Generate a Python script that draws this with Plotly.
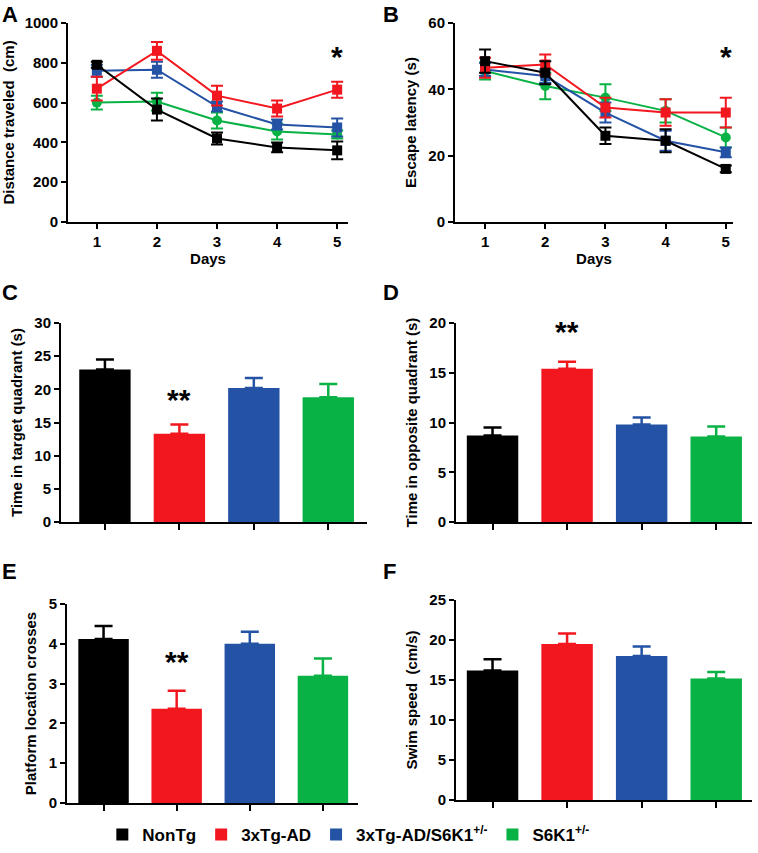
import plotly.graph_objects as go

W, H = 758, 853

GROUPS = ["NonTg", "3xTg-AD", "3xTg-AD/S6K1<sup>+/-</sup>", "S6K1<sup>+/-</sup>"]
COLORS = ["#000000", "#F2171E", "#2452A4", "#08B244"]
SYMBOLS = ["square", "square", "square", "circle"]

DAYS = [1, 2, 3, 4, 5]

# A: distance traveled (cm), per group
dist_nontg = [790, 565, 420, 375, 360]
dist_3xtg = [670, 860, 635, 570, 665]
dist_dko = [760, 765, 580, 490, 475]
dist_s6k1 = [600, 605, 510, 455, 440]
dist_nontg_err = [15, 55, 30, 25, 45]
dist_3xtg_err = [60, 45, 50, 40, 40]
dist_dko_err = [30, 40, 25, 25, 45]
dist_s6k1_err = [35, 45, 40, 40, 20]

# B: escape latency (s)
lat_nontg = [48.5, 45.0, 26.0, 24.5, 16.0]
lat_3xtg = [46.5, 47.5, 34.5, 33.0, 33.0]
lat_dko = [46.0, 44.0, 33.0, 24.5, 21.0]
lat_s6k1 = [45.5, 41.0, 37.5, 33.5, 25.5]
lat_nontg_err = [3.5, 3.5, 2.5, 3.5, 1.0]
lat_3xtg_err = [3.0, 3.0, 3.0, 4.0, 4.5]
lat_dko_err = [2.0, 2.0, 3.0, 3.0, 1.5]
lat_s6k1_err = [2.5, 4.0, 4.0, 3.5, 3.0]

# C-F: probe trial bars (NonTg, 3xTg-AD, 3xTg-AD/S6K1+/-, S6K1+/-)
target_time = [23.0, 13.3, 20.2, 18.8]
target_err = [1.5, 1.4, 1.5, 2.0]
opposite_time = [8.7, 15.4, 9.8, 8.6]
opposite_err = [0.8, 0.7, 0.7, 1.0]
crosses = [4.12, 2.37, 4.0, 3.2]
crosses_err = [0.33, 0.45, 0.3, 0.43]
swim_speed = [16.2, 19.5, 18.0, 15.2]
swim_err = [1.4, 1.3, 1.2, 0.8]

FONT = "Liberation Sans, Arial, sans-serif"


def xdom(a, b):
    return [a / W, b / W]


def ydom(top, bottom):
    return [1 - bottom / H, 1 - top / H]


fig = go.Figure()

# ── Line panels A and B ─────────────────
line_sets = [
    ("x", "y", [dist_nontg, dist_3xtg, dist_dko, dist_s6k1],
     [dist_nontg_err, dist_3xtg_err, dist_dko_err, dist_s6k1_err]),
    ("x2", "y2", [lat_nontg, lat_3xtg, lat_dko, lat_s6k1],
     [lat_nontg_err, lat_3xtg_err, lat_dko_err, lat_s6k1_err]),
]
draw_order = [3, 2, 1, 0]  # green first, black on top
for xa, ya, means, errs in line_sets:
    for i in draw_order:
        fig.add_trace(go.Scatter(
            x=DAYS, y=means[i], xaxis=xa, yaxis=ya, mode="lines+markers",
            line=dict(color=COLORS[i], width=2),
            marker=dict(symbol=SYMBOLS[i], size=10, color=COLORS[i]),
            error_y=dict(type="data", array=errs[i], color=COLORS[i],
                         thickness=2, width=6),
            showlegend=False,
        ))

# ── Bar panels C-F ──────────────────────
bar_sets = [
    ("x3", "y3", target_time, target_err, True),
    ("x4", "y4", opposite_time, opposite_err, False),
    ("x5", "y5", crosses, crosses_err, False),
    ("x6", "y6", swim_speed, swim_err, False),
]
for xa, ya, vals, errs, show in bar_sets:
    for i, g in enumerate(GROUPS):
        fig.add_trace(go.Bar(
            x=[i], y=[vals[i]], xaxis=xa, yaxis=ya, width=0.69,
            marker=dict(color=COLORS[i], line=dict(width=0)),
            error_y=dict(type="data", symmetric=False, array=[errs[i]],
                         arrayminus=[0], color=COLORS[i], thickness=2.5, width=9),
            name=g, showlegend=show, legendgroup=g,
        ))

axis_common = dict(
    showgrid=False, zeroline=False, showline=True, linewidth=2, linecolor="black",
    ticks="outside", ticklen=5, tickwidth=2, tickcolor="black",
    tickfont=dict(family=FONT, size=15, color="black", weight="bold"),
)
title_font = dict(family=FONT, size=15, color="black", weight="bold")

panels = [
    # x px, y px, xrange, yrange, dtick, ytitle
    ((68, 348), (23, 222), [0.52, 5.18], [0, 1000], 200, "Distance traveled  (cm)"),
    ((455, 733), (23, 222), [0.5, 5.12], [0, 60], 20, "Escape latency (s)"),
    ((61, 367), (323, 522), [-0.59, 3.52], [0, 30], 5, "Time in target quadrant (s)"),
    ((456, 752), (323, 522), [-0.49, 3.48], [0, 20], 5, "Time in opposite quadrant (s)"),
    ((67, 358), (604, 803), [-0.5, 3.48], [0, 5], 1, "Platform location crosses"),
    ((456, 752), (600, 800), [-0.49, 3.48], [0, 25], 5, "Swim speed  (cm/s)"),
]
layout_axes = {}
for k, (xp, yp, xr, yr, dt, yt) in enumerate(panels, start=1):
    sfx = "" if k == 1 else str(k)
    xa = dict(axis_common, domain=xdom(*xp), range=xr, anchor="y" + sfx)
    if k <= 2:
        xa.update(tickvals=DAYS, ticktext=[str(d) for d in DAYS],
                  title=dict(text="Days", font=title_font, standoff=2))
    else:
        xa.update(tickvals=[0, 1, 2, 3], showticklabels=False, ticklen=6)
    ya = dict(axis_common, domain=ydom(*yp), range=yr, dtick=dt, anchor="x" + sfx,
              title=dict(text=yt, font=title_font, standoff=8))
    layout_axes["xaxis" + sfx] = xa
    layout_axes["yaxis" + sfx] = ya

fig.update_layout(**layout_axes)

# ── Significance marks ──────────────────
star_font = dict(family=FONT, size=30, color="black", weight="bold")
for xa, ya, x, y, txt, shift in [
    ("x", "y", 5, 890, "*", 7),
    ("x2", "y2", 5, 53.5, "*", 7),
    ("x3", "y3", 1, 19.8, "**", 10),
    ("x4", "y4", 1, 19.0, "**", 20),
    ("x5", "y5", 1, 3.95, "**", 3),
]:
    fig.add_annotation(xref=xa, yref=ya, x=x, y=y, text=txt, showarrow=False,
                       font=star_font, xanchor="center", yanchor="top",
                       yshift=shift)

# ── Panel letters ───────────────────────
for letter, px, py, shift in [("A", 0, 0, 0), ("B", 381, 0, 0), ("C", 0, 281, 3),
                              ("D", 381, 281, 3), ("E", 0, 563, 6), ("F", 381, 563, 6)]:
    fig.add_annotation(xref="paper", yref="paper", x=px / W, y=1 - py / H,
                       text=letter, showarrow=False, xanchor="left", yanchor="top",
                       yshift=shift,
                       font=dict(family=FONT, size=22, color="black", weight="bold"))

fig.update_layout(
    width=W, height=H,
    margin=dict(l=0, r=0, t=0, b=0, autoexpand=False),
    paper_bgcolor="white", plot_bgcolor="white",
    barmode="overlay",
    legend=dict(orientation="h", x=0.135, y=1 - 835 / H, xanchor="left",
                yanchor="middle", font=dict(family=FONT, size=17, color="black",
                                            weight="bold"),
                itemsizing="constant", bgcolor="rgba(0,0,0,0)"),
)

fig.write_html("out.html", config={"displayModeBar": False},
               post_script="document.body.style.margin='0';")
